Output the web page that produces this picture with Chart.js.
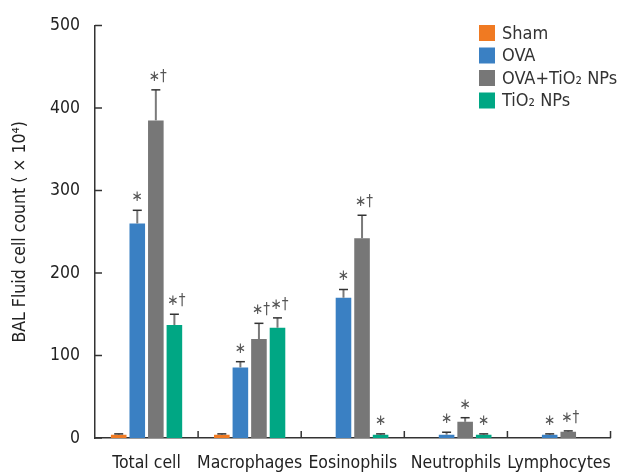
<!DOCTYPE html>
<html>
<head>
<meta charset="utf-8">
<script src="https://cdn.jsdelivr.net/npm/chart.js@4.4.1/dist/chart.umd.min.js"></script>
<style>
  html, body { margin: 0; padding: 0; background: #fff; }
  #wrap { width: 626px; height: 474px; }
</style>
</head>
<body>
<div id="wrap"><canvas id="bal_canvas" width="626" height="474"></canvas></div>
<script>
// categories on the x axis
var categories = ['Total cell', 'Macrophages', 'Eosinophils', 'Neutrophils', 'Lymphocytes'];
// mean values (x10^4)
var sham    = [4, 4, null, null, null];
var ova     = [260, 85.5, 170, 4, 4];
var ovaTio2 = [385, 120, 242, 19.6, 7.6];
var tio2    = [137, 133.6, 4, 4, null];
// upper error bars
var shamErr    = [1, 1, 0, 0, 0];
var ovaErr     = [16, 7, 10, 3, 1];
var ovaTio2Err = [37, 19, 28, 5, 1];
var tio2Err    = [13, 12, 1, 1, 0];
// significance marks
var shamMarks    = ['', '', '', '', ''];
var ovaMarks     = ['*', '*', '*', '*', '*'];
var ovaTio2Marks = ['*†', '*†', '*†', '*', '*†'];
var tio2Marks    = ['*†', '*†', '*', '*', ''];
var yTicks = [0, 100, 200, 300, 400, 500];

var FONT = "'DejaVu Sans Condensed', 'Liberation Sans Narrow', 'Roboto', sans-serif";

//Draws error bars, marks, inward ticks and the legend
var extras = {
  id: 'extras',
  afterDatasetsDraw: function (chart) {
    var c = chart.ctx;
    var ya = chart.scales.y, xa = chart.scales.x;
    c.save();
    chart.data.datasets.forEach(function (ds, di) {
      var meta = chart.getDatasetMeta(di);
      meta.data.forEach(function (bar, i) {
        var v = ds.data[i];
        if (v === null || v === undefined) return;
        var top = ya.getPixelForValue(v + (ds.err[i] || 0));
        if (ds.err[i] > 0) {
          c.strokeStyle = '#7a7a7a';
          c.lineWidth = 2;
          c.beginPath(); c.moveTo(bar.x, bar.y); c.lineTo(bar.x, top); c.stroke();
          c.strokeStyle = '#333';
          c.lineWidth = 1.5;
          c.beginPath(); c.moveTo(bar.x - 4.5, top); c.lineTo(bar.x + 4.5, top); c.stroke();
        }
        var m = ds.marks[i];
        if (m) {
          c.fillStyle = '#555';
          c.font = '15px ' + FONT;
          c.textAlign = 'center';
          c.textBaseline = 'middle';
          c.fillText(m.replace('*', '\u2217'), bar.x + (m.length > 1 ? 2 : 0), top - 13);
        }
      });
    });
    // inward y ticks
    c.strokeStyle = '#333';
    c.lineWidth = 1.5;
    yTicks.forEach(function (t) {
      var y = ya.getPixelForValue(t);
      c.beginPath(); c.moveTo(ya.right, y); c.lineTo(ya.right + 7, y); c.stroke();
    });
    // category separators on x axis
    var w = (xa.right - xa.left) / categories.length;
    for (var k = 1; k <= categories.length; k++) {
      var x = xa.left + k * w;
      c.beginPath(); c.moveTo(x, xa.top); c.lineTo(x, xa.top - 7); c.stroke();
    }
    // legend
    c.font = '18px ' + FONT;
    c.textAlign = 'left';
    c.textBaseline = 'middle';
    chart.data.datasets.forEach(function (ds, di) {
      var y = 33 + di * 22.5;
      c.fillStyle = ds.backgroundColor;
      c.fillRect(479, y - 8, 16, 16);
      c.fillStyle = '#333';
      c.fillText(ds.label, 502, y + 1);
    });
    c.restore();
  }
};

var ctx = document.getElementById('bal_canvas').getContext('2d');
var myChart = new Chart(ctx, {
  type: 'bar',
  data: {
    labels: categories,
    datasets: [
      { label: 'Sham', data: sham, err: shamErr, marks: shamMarks, backgroundColor: '#f07a22' },
      { label: 'OVA', data: ova, err: ovaErr, marks: ovaMarks, backgroundColor: '#3a80c3' },
      { label: 'OVA+TiO\u2082 NPs', data: ovaTio2, err: ovaTio2Err, marks: ovaTio2Marks, backgroundColor: '#777777' },
      { label: 'TiO\u2082 NPs', data: tio2, err: tio2Err, marks: tio2Marks, backgroundColor: '#00a784' }
    ]
  },
  options: {
    responsive: false,
    animation: false,
    devicePixelRatio: 1,
    categoryPercentage: 0.72,
    barPercentage: 0.84,
    layout: { padding: { top: 22, right: 3, left: 0, bottom: 0 } },
    plugins: { legend: { display: false }, tooltip: { enabled: false } },
    scales: {
      x: {
        grid: { display: false, drawTicks: false },
        border: { display: true, color: '#333', width: 1.5 },
        ticks: { color: '#222', font: { family: FONT, size: 17.5 }, padding: 15, maxRotation: 0, autoSkip: false },
        afterFit: function (s) { s.height = 36; }
      },
      y: {
        min: 0, max: 500,
        grid: { display: false, drawTicks: false },
        border: { display: true, color: '#333', width: 1.5 },
        ticks: { stepSize: 100, color: '#222', font: { family: FONT, size: 17.5 }, padding: 15 },
        title: { display: true, text: 'BAL Fluid cell count ( \u00d7 10\u2074)', color: '#222', font: { family: FONT, size: 17.5 }, padding: { top: 10, bottom: 0 } },
        afterFit: function (s) { s.width = 95; }
      }
    }
  },
  plugins: [extras]
});
</script>
</body>
</html>
